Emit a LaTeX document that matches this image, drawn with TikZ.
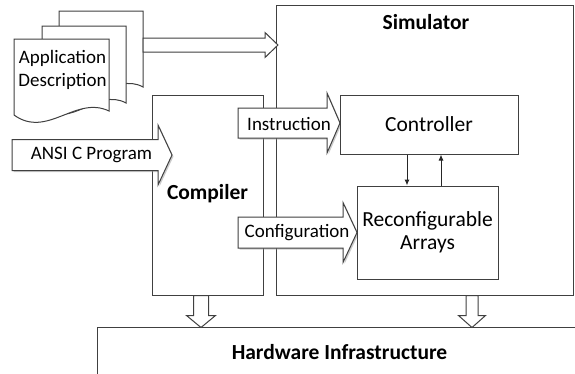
\documentclass[tikz,border=0pt]{standalone}
\usepackage{fontspec}
\setmainfont{Carlito}
\usetikzlibrary{arrows.meta, shadows}

% block arrow: [style]{start}{length}{shaft half}{head half}{head length}
\newcommand{\blockarrow}[6][]{%
  \draw[#1] (#2) ++(0,-#4) -- ++({#3-#6},0) -- ++(0,{#4-#5}) -- ++(#6,#5)
    -- ++(-#6,#5) -- ++(0,{#4-#5}) -- ++({-(#3-#6)},0) -- cycle;}
\newcommand{\blockdown}[6][]{%
  \draw[#1] (#2) ++(-#4,0) -- ++(0,{#3-#6}) -- ++({#4-#5},0) -- ++(#5,#6)
    -- ++(#5,-#6) -- ++({#4-#5},0) -- ++(0,{-(#3-#6)}) -- cycle;}
% document page: {x}{y}{width}{height}
\newcommand{\docpage}[4]{%
  \draw[page] (#1,#2) -- ({#1+#3},#2) -- ({#1+#3},{#2+#4-4})
    .. controls ({#1+0.65*#3},{#2+#4-20}) and ({#1+0.35*#3},{#2+#4+24}) .. (#1,{#2+#4}) -- cycle;}

\begin{document}
\begin{tikzpicture}[x=1pt, y=-1pt,
  box/.style={draw=black!75, fill=white, line width=1pt, inner sep=0pt,
              font=\fontsize{21.5}{23}\selectfont, align=center},
  page/.style={draw=black!75, fill=white, line width=1pt},
  barrow/.style={draw=black!75, fill=white, line width=1pt},
  shade/.style={drop shadow={shadow xshift=1.5pt, shadow yshift=-1.5pt,
                fill=black!40, opacity=0.5}},
  sarr/.style={-{Latex[length=6pt, width=5pt]}, line width=1pt, draw=black!85},
  lbl/.style={font=\fontsize{19}{22.5}\selectfont, align=center},
  title/.style={font=\fontsize{21.5}{23}\selectfont\bfseries},
]
\useasboundingbox (0,0) rectangle (575,373);
\clip (0,0) rectangle (575,373);

% --- Outer blocks ---
\node[box, minimum width=297pt, minimum height=290pt] (sim)  at (424.5,150) {};
\node[title] (simlbl) at (426,22) {Simulator};
\node[box, minimum width=111pt, minimum height=200pt] (comp) at (207.5,195) {};
\node[title] (complbl) at (207.5,194) {Compiler};
\node[box, minimum width=493pt, minimum height=63pt] (hw) at (343.5,358.5) {};
\node[title] (hwlbl) at (339.5,352) {Hardware Infrastructure};

% --- Application description (stacked pages) ---
\docpage{59}{11}{84}{80}
\docpage{42}{26}{84}{81}
\docpage{14}{39}{95}{76}
\node[lbl] (app) at (62.5,70) {Application\\Description};

% --- Block arrows ---
\coordinate (docR) at (143,45);
\blockarrow[barrow]{docR}{135}{7}{12.5}{13}

\coordinate (ansiS) at (12,155);
\blockarrow[barrow, shade]{ansiS}{160}{15.5}{30}{14}
\node[lbl] (ansi) at (91.5,155) {ANSI C Program};

\coordinate (instS) at (238,123);
\blockarrow[barrow, shade]{instS}{102}{15}{30}{13}
\node[lbl] (inst) at (289,124) {Instruction};

\coordinate (confS) at (238,232.5);
\blockarrow[barrow, shade]{confS}{119}{15.5}{30}{14}
\node[lbl] (conf) at (297,233) {Configuration};

\blockdown[barrow]{[xshift=-6.5pt]comp.south}{32}{7.5}{14.5}{12}
\blockdown[barrow]{[xshift=47.5pt]sim.south}{32}{6}{13.5}{12}

% --- Inner blocks ---
\node[box, minimum width=178pt, minimum height=59pt] (ctrl) at (429,124.5) {Controller};
\node[box, minimum width=141pt, minimum height=93pt] (rca) at (427.5,232.5)
  {Reconfigurable\\Arrays};

\draw[sarr] ([xshift=-22pt]ctrl.south) -- ([xshift=-22pt]ctrl.south |- rca.north);
\draw[sarr] ([xshift=12pt]ctrl.south |- rca.north) -- ([xshift=12pt]ctrl.south);

\end{tikzpicture}
\end{document}
